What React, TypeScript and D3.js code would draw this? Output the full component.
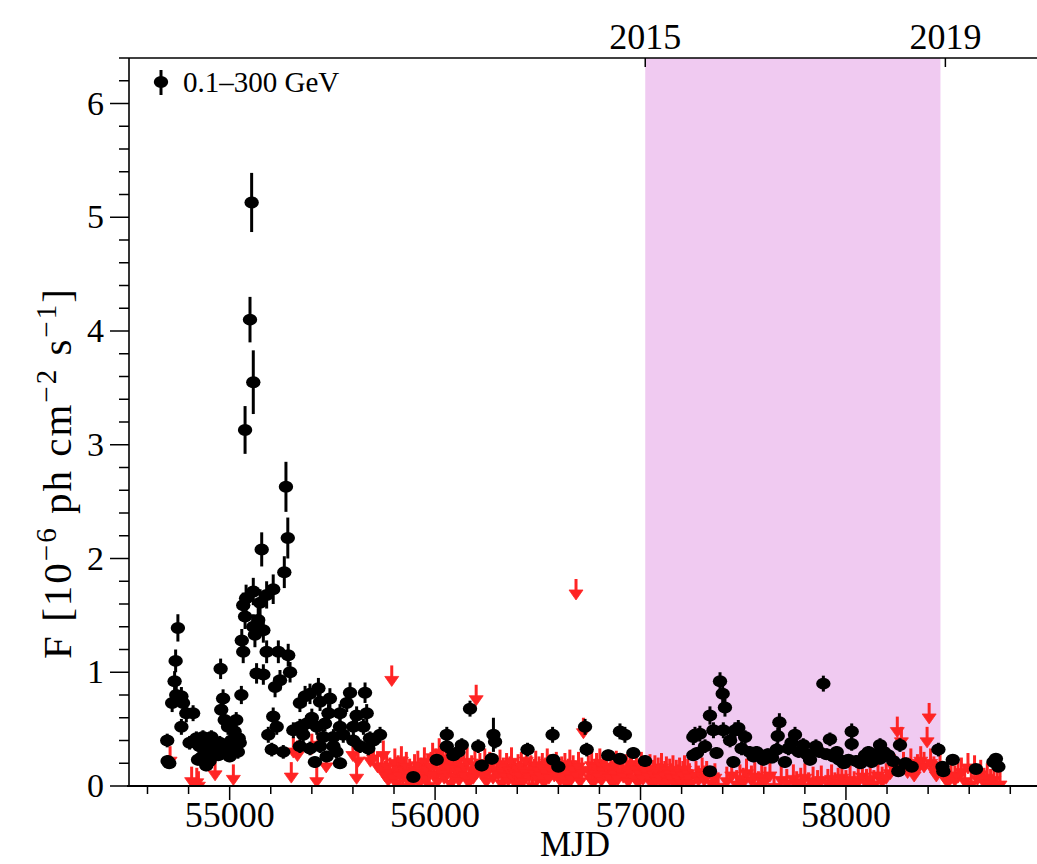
import React from 'react'
import * as d3 from 'd3'

// weekly detections: [MJD, flux (1e-6 ph cm^-2 s^-1), error]
const detections: [number, number, number][] = [
  [54696, 0.40, 0.06], [54698, 0.22, 0.05], [54706, 0.20, 0.05], [54720, 0.73, 0.08], [54732, 0.92, 0.09],
  [54737, 1.10, 0.10], [54748, 1.39, 0.12], [54740, 0.80, 0.08], [54765, 0.79, 0.08], [54773, 0.73, 0.08],
  [54765, 0.52, 0.07], [54789, 0.64, 0.08], [54805, 0.38, 0.06], [54822, 0.64, 0.07], [54838, 0.42, 0.06],
  [54846, 0.23, 0.05], [54854, 0.35, 0.06], [54862, 0.25, 0.05], [54870, 0.43, 0.06], [54878, 0.30, 0.05],
  [54886, 0.18, 0.05], [54894, 0.35, 0.06], [54902, 0.22, 0.05], [54911, 0.43, 0.06], [54919, 0.35, 0.06],
  [54935, 0.29, 0.05], [54944, 0.27, 0.05], [54952, 0.38, 0.06], [54956, 1.03, 0.09], [54959, 0.67, 0.08],
  [54968, 0.77, 0.08], [54976, 0.58, 0.07], [54984, 0.32, 0.06], [54992, 0.52, 0.07], [55000, 0.26, 0.05],
  [55008, 0.40, 0.06], [55016, 0.33, 0.06], [55024, 0.48, 0.07], [55032, 0.58, 0.07], [55040, 0.30, 0.06],
  [55044, 0.42, 0.06], [55049, 0.38, 0.06], [55057, 0.80, 0.08],
  [55059, 1.28, 0.10], [55066, 1.18, 0.10], [55066, 1.59, 0.11], [55075, 1.49, 0.11], [55075, 3.13, 0.21],
  [55080, 1.65, 0.12], [55099, 4.10, 0.20], [55107, 5.13, 0.26], [55115, 3.55, 0.28], [55115, 1.71, 0.12],
  [55115, 1.40, 0.11], [55123, 1.33, 0.11], [55131, 0.99, 0.09], [55139, 1.46, 0.12], [55148, 1.61, 0.12],
  [55156, 2.08, 0.15], [55164, 1.37, 0.11], [55164, 0.98, 0.09], [55180, 1.68, 0.12], [55180, 1.18, 0.10],
  [55188, 0.45, 0.07], [55205, 0.32, 0.06], [55212, 1.73, 0.13], [55212, 0.61, 0.08], [55221, 0.87, 0.09],
  [55229, 0.52, 0.07], [55237, 1.18, 0.10], [55245, 0.93, 0.09], [55261, 0.30, 0.06], [55266, 1.88, 0.14],
  [55274, 2.63, 0.22], [55283, 2.18, 0.18], [55285, 1.15, 0.10], [55294, 1.00, 0.09], [55310, 0.49, 0.07],
  [55342, 0.73, 0.08], [55342, 0.52, 0.07], [55342, 0.35, 0.06], [55358, 0.45, 0.07], [55367, 0.79, 0.09],
  [55375, 0.55, 0.07], [55391, 0.81, 0.09], [55391, 0.33, 0.06], [55400, 0.60, 0.08], [55415, 0.21, 0.05],
  [55424, 0.52, 0.07], [55432, 0.86, 0.09], [55440, 0.74, 0.08], [55440, 0.35, 0.06], [55456, 0.43, 0.07],
  [55464, 0.55, 0.07], [55472, 0.26, 0.05], [55481, 0.64, 0.08], [55488, 0.77, 0.09], [55505, 0.43, 0.07],
  [55505, 0.35, 0.06], [55520, 0.30, 0.06], [55537, 0.64, 0.08], [55537, 0.52, 0.07], [55537, 0.20, 0.05],
  [55553, 0.45, 0.07], [55570, 0.73, 0.08], [55586, 0.82, 0.09], [55602, 0.52, 0.07], [55602, 0.40, 0.06],
  [55618, 0.62, 0.08], [55635, 0.35, 0.06], [55651, 0.52, 0.07], [55659, 0.82, 0.09], [55667, 0.64, 0.08],
  [55675, 0.33, 0.06], [55683, 0.42, 0.06], [55700, 0.40, 0.06], [55732, 0.45, 0.07],
  [55894, 0.08, 0.03], [56008, 0.23, 0.05], [56057, 0.45, 0.07], [56057, 0.35, 0.06], [56089, 0.27, 0.05],
  [56113, 0.30, 0.05], [56130, 0.36, 0.06], [56170, 0.68, 0.07], [56210, 0.35, 0.06], [56227, 0.18, 0.05],
  [56276, 0.24, 0.05], [56284, 0.45, 0.15], [56292, 0.39, 0.06], [56450, 0.32, 0.06], [56572, 0.45, 0.07],
  [56575, 0.23, 0.05], [56600, 0.17, 0.04], [56730, 0.52, 0.07], [56738, 0.32, 0.06], [56843, 0.27, 0.05],
  [56900, 0.48, 0.07], [56924, 0.45, 0.07], [56900, 0.24, 0.05], [56965, 0.29, 0.05], [57022, 0.22, 0.05],
  [57257, 0.43, 0.07], [57257, 0.27, 0.05], [57265, 0.45, 0.07], [57275, 0.29, 0.05], [57289, 0.46, 0.07],
  [57314, 0.35, 0.06], [57338, 0.62, 0.08], [57338, 0.13, 0.04], [57355, 0.49, 0.07], [57370, 0.29, 0.05],
  [57387, 0.92, 0.08], [57400, 0.81, 0.08], [57411, 0.69, 0.08], [57403, 0.49, 0.07], [57436, 0.40, 0.06],
  [57452, 0.21, 0.05], [57460, 0.49, 0.07], [57476, 0.51, 0.07], [57492, 0.33, 0.06], [57509, 0.43, 0.06],
  [57530, 0.30, 0.05], [57550, 0.26, 0.05], [57565, 0.30, 0.05], [57598, 0.23, 0.05], [57620, 0.28, 0.05],
  [57640, 0.25, 0.05], [57663, 0.32, 0.06], [57668, 0.44, 0.07], [57676, 0.56, 0.08], [57703, 0.21, 0.05],
  [57720, 0.33, 0.06], [57735, 0.38, 0.06], [57752, 0.45, 0.07], [57770, 0.30, 0.05], [57792, 0.36, 0.06],
  [57810, 0.28, 0.05], [57825, 0.23, 0.05], [57854, 0.35, 0.06], [57870, 0.30, 0.05], [57890, 0.90, 0.07],
  [57905, 0.28, 0.05], [57922, 0.41, 0.06], [57939, 0.26, 0.05], [57955, 0.30, 0.05], [57968, 0.23, 0.05],
  [57990, 0.20, 0.05], [58012, 0.23, 0.05], [58028, 0.48, 0.07], [58028, 0.37, 0.06], [58050, 0.22, 0.05],
  [58070, 0.20, 0.05], [58093, 0.27, 0.05], [58110, 0.30, 0.05], [58125, 0.21, 0.05], [58145, 0.28, 0.05],
  [58166, 0.36, 0.06], [58166, 0.24, 0.05], [58185, 0.30, 0.05], [58206, 0.27, 0.05], [58230, 0.22, 0.05],
  [58255, 0.13, 0.04], [58263, 0.36, 0.06], [58290, 0.20, 0.05], [58320, 0.17, 0.04], [58450, 0.32, 0.06],
  [58470, 0.17, 0.04], [58474, 0.13, 0.04], [58520, 0.23, 0.05], [58633, 0.15, 0.04], [58718, 0.21, 0.05],
  [58730, 0.24, 0.05], [58742, 0.17, 0.04],
]

// 95% upper limits: [MJD, flux]
const upperLimits: [number, number][] = [
  [54710, 0.35], [54815, 0.17], [54840, 0.16], [54848, 0.13], [54929, 0.23], [55018, 0.19], [55300, 0.21],
  [55310, 0.43], [55330, 0.40], [55400, 0.46], [55424, 0.17], [55430, 0.49], [55470, 0.30], [55600, 0.40],
  [55618, 0.20], [55625, 0.35], [55685, 0.35], [55700, 0.37], [55720, 0.30], [55748, 0.40], [55789, 1.06],
  [55740, 0.28], [55756, 0.22], [55764, 0.30], [55772, 0.18], [55780, 0.25], [55796, 0.20], [55804, 0.33],
  [55812, 0.15], [55820, 0.27], [55828, 0.22], [55836, 0.35], [55844, 0.12], [55852, 0.26], [55860, 0.30],
  [55868, 0.18], [55876, 0.24], [55884, 0.14], [55900, 0.28], [55908, 0.20], [55916, 0.31], [55924, 0.16],
  [55932, 0.25], [55940, 0.22], [55948, 0.34], [55956, 0.19], [55964, 0.27], [55972, 0.13], [55980, 0.30],
  [55988, 0.38], [55996, 0.23], [56004, 0.33], [56012, 0.17], [56020, 0.42], [56028, 0.26], [56036, 0.31],
  [56044, 0.20], [56052, 0.37], [56060, 0.24], [56068, 0.29], [56076, 0.15], [56084, 0.33], [56092, 0.21],
  [56100, 0.28], [56108, 0.35], [56116, 0.18], [56124, 0.26], [56140, 0.30], [56148, 0.22], [56156, 0.34],
  [56164, 0.16], [56178, 0.27], [56186, 0.20], [56194, 0.31], [56200, 0.89], [56202, 0.24], [56218, 0.29],
  [56234, 0.22], [56242, 0.33], [56250, 0.17], [56258, 0.26], [56266, 0.30], [56282, 0.20], [56300, 0.27],
  [56308, 0.23], [56316, 0.32], [56324, 0.15], [56332, 0.25], [56340, 0.21], [56348, 0.29], [56356, 0.18],
  [56364, 0.26], [56372, 0.34], [56380, 0.20], [56388, 0.24], [56396, 0.14], [56404, 0.28], [56412, 0.22],
  [56420, 0.30], [56428, 0.17], [56436, 0.25], [56444, 0.35], [56458, 0.21], [56466, 0.27], [56474, 0.13],
  [56482, 0.24], [56490, 0.31], [56498, 0.19], [56506, 0.26], [56514, 0.22], [56522, 0.29], [56530, 0.16],
  [56538, 0.25], [56546, 0.33], [56554, 0.20], [56562, 0.28], [56580, 0.22], [56590, 0.30], [56608, 0.18],
  [56616, 0.26], [56624, 0.21], [56632, 0.29], [56640, 0.15], [56648, 0.24], [56656, 0.32], [56664, 0.19],
  [56672, 0.27], [56686, 1.82], [56690, 0.22], [56698, 0.30], [56706, 0.17], [56714, 0.25], [56722, 0.60],
  [56746, 0.27], [56754, 0.20], [56762, 0.31], [56770, 0.16], [56778, 0.24], [56786, 0.29], [56794, 0.21],
  [56802, 0.33], [56810, 0.18], [56818, 0.26], [56826, 0.23], [56834, 0.30], [56850, 0.20], [56858, 0.27],
  [56866, 0.15], [56874, 0.24], [56882, 0.31], [56890, 0.19], [56908, 0.26], [56916, 0.21], [56932, 0.28],
  [56940, 0.17], [56948, 0.25], [56956, 0.32], [56972, 0.20], [56980, 0.27], [56988, 0.16], [56996, 0.24],
  [57004, 0.30], [57012, 0.19], [57030, 0.25], [57038, 0.21], [57046, 0.28], [57054, 0.15], [57062, 0.23],
  [57070, 0.27], [57078, 0.18], [57086, 0.25], [57094, 0.20], [57102, 0.29], [57110, 0.14], [57118, 0.22],
  [57126, 0.26], [57134, 0.17], [57142, 0.24], [57150, 0.20], [57158, 0.27], [57166, 0.15], [57174, 0.23],
  [57182, 0.19], [57190, 0.25], [57198, 0.16], [57206, 0.22], [57214, 0.27], [57222, 0.18], [57230, 0.24],
  [57238, 0.20], [57246, 0.15], [57270, 0.22], [57282, 0.18],
  [57300, 0.25], [57310, 0.18], [57322, 0.22], [57346, 0.15], [57362, 0.20], [57378, 0.12], [57420, 0.17],
  [57444, 0.22], [57468, 0.14], [57484, 0.19], [57500, 0.16], [57516, 0.24], [57540, 0.18], [57556, 0.21],
  [57574, 0.13], [57590, 0.20], [57606, 0.17], [57630, 0.22], [57650, 0.12], [57685, 0.18], [57712, 0.15],
  [57744, 0.19], [57760, 0.13], [57780, 0.16], [57800, 0.20], [57818, 0.12], [57840, 0.17], [57862, 0.14],
  [57880, 0.18], [57912, 0.15], [57930, 0.19], [57946, 0.12], [57962, 0.16], [57980, 0.20], [58000, 0.14],
  [58020, 0.18], [58040, 0.13], [58060, 0.17], [58080, 0.21], [58100, 0.15], [58118, 0.19], [58136, 0.14],
  [58156, 0.22], [58176, 0.17], [58196, 0.20], [58216, 0.24], [58236, 0.28], [58250, 0.61], [58270, 0.52],
  [58280, 0.30], [58300, 0.25], [58316, 0.33], [58332, 0.22], [58348, 0.28], [58364, 0.35], [58380, 0.30],
  [58395, 0.52], [58405, 0.73], [58412, 0.33], [58428, 0.26], [58440, 0.22], [58458, 0.28], [58480, 0.20],
  [58496, 0.16], [58512, 0.22], [58530, 0.18], [58546, 0.21], [58562, 0.25], [58578, 0.17], [58594, 0.29],
  [58610, 0.14], [58626, 0.27], [58640, 0.19], [58656, 0.23], [58672, 0.16], [58688, 0.20], [58704, 0.15],
  [58720, 0.18], [58736, 0.13], [58750, 0.14],
]

const yearTicks = [57023, 58484]
const yearLabels = ['2015', '2019']
const shadedSpan = [57023, 58460]
const legendLabel = '0.1–300 GeV'

const W = 1037
const H = 864
const left = 129, right = 1037, top = 58, bottom = 786
const font = '"Liberation Serif", "Times New Roman", serif'
const red = '#ff2424'

export default function App() {
  const x = d3.scaleLinear().domain([54510, 58930]).range([left, right])
  const y = d3.scaleLinear().domain([0, 6.4]).range([bottom, top])

  const xTicks = d3.range(54600, 58930, 200)
  const yTicks = y.ticks(32)
  const isMajor = (v: number, step: number) => Math.abs(v / step - Math.round(v / step)) < 1e-6

  return (
    <svg width={W} height={H} style={{ position: 'absolute', left: 0, top: 0, background: '#fff' }}
      fontFamily={font}>
      <defs>
        <clipPath id="plot">
          <rect x={left} y={top} width={right - left} height={bottom - top} />
        </clipPath>
      </defs>

      <rect x={x(shadedSpan[0])} y={top} width={x(shadedSpan[1]) - x(shadedSpan[0])}
        height={bottom - top} fill="#f0caf1" />

      <g clipPath="url(#plot)">
        {/* upper limits */}
        {upperLimits.map(([m, v], i) => {
          const cx = x(m), cy = y(v)
          return <g key={'ul' + i} fill={red} stroke={red}>
            <line x1={cx} x2={cx} y1={cy} y2={cy + 13} strokeWidth={3} />
            <path d={`M${cx - 7},${cy + 11}L${cx + 7},${cy + 11}L${cx},${cy + 21}Z`} strokeWidth={0.8} />
          </g>
        })}
        {/* detections */}
        {detections.map(([m, v, e], i) => (
          <g key={'d' + i}>
            <line x1={x(m)} x2={x(m)} y1={y(v + e)} y2={y(v - e)} stroke="#000" strokeWidth={3} />
            <ellipse cx={x(m)} cy={y(v)} rx={7.2} ry={6} fill="#000" />
          </g>
        ))}
      </g>

      {/* axes frame */}
      <line x1={left} x2={left} y1={top} y2={bottom} stroke="#000" strokeWidth={1.6} />
      <line x1={left - 2} x2={W} y1={bottom} y2={bottom} stroke="#000" strokeWidth={1.8} />
      <line x1={left} x2={W} y1={top} y2={top} stroke="#000" strokeWidth={1.6} />

      {yTicks.map(t => {
        const major = isMajor(t, 1)
        return <g key={'yt' + t}>
          <line x1={left - (major ? 19 : 10)} x2={left} y1={y(t)} y2={y(t)} stroke="#000" strokeWidth={1.5} />
          {major && <text x={104} y={y(t) + 11} textAnchor="end" fontSize={34}>{t}</text>}
        </g>
      })}

      {xTicks.map(t => {
        const major = isMajor(t, 1000)
        return <g key={'xt' + t}>
          <line x1={x(t)} x2={x(t)} y1={bottom} y2={bottom + (major ? 14 : 8)} stroke="#000" strokeWidth={1.5} />
          {major && <text x={x(t)} y={827} textAnchor="middle" fontSize={36}>{t}</text>}
        </g>
      })}

      {yearTicks.map((t, i) => (
        <g key={'yr' + t}>
          <line x1={x(t)} x2={x(t)} y1={top} y2={top + 9} stroke="#000" strokeWidth={1.5} />
          <text x={x(t)} y={49} textAnchor="middle" fontSize={36}>{yearLabels[i]}</text>
        </g>
      ))}

      <text x={575} y={856} textAnchor="middle" fontSize={35}>MJD</text>

      <text transform={`translate(71,473) rotate(-90)`} textAnchor="middle" fontSize={41} letterSpacing={2}>
        F [10<tspan dy={-15} fontSize={29}>−6</tspan><tspan dy={15}> ph cm</tspan>
        <tspan dy={-15} fontSize={29}>−2</tspan><tspan dy={15}> s</tspan>
        <tspan dy={-15} fontSize={29}>−1</tspan><tspan dy={15}>]</tspan>
      </text>

      {/* legend */}
      <line x1={161} x2={161} y1={70} y2={95} stroke="#000" strokeWidth={3} />
      <ellipse cx={161} cy={82} rx={7.2} ry={6} fill="#000" />
      <text x={183} y={92} fontSize={29}>{legendLabel}</text>
    </svg>
  )
}
